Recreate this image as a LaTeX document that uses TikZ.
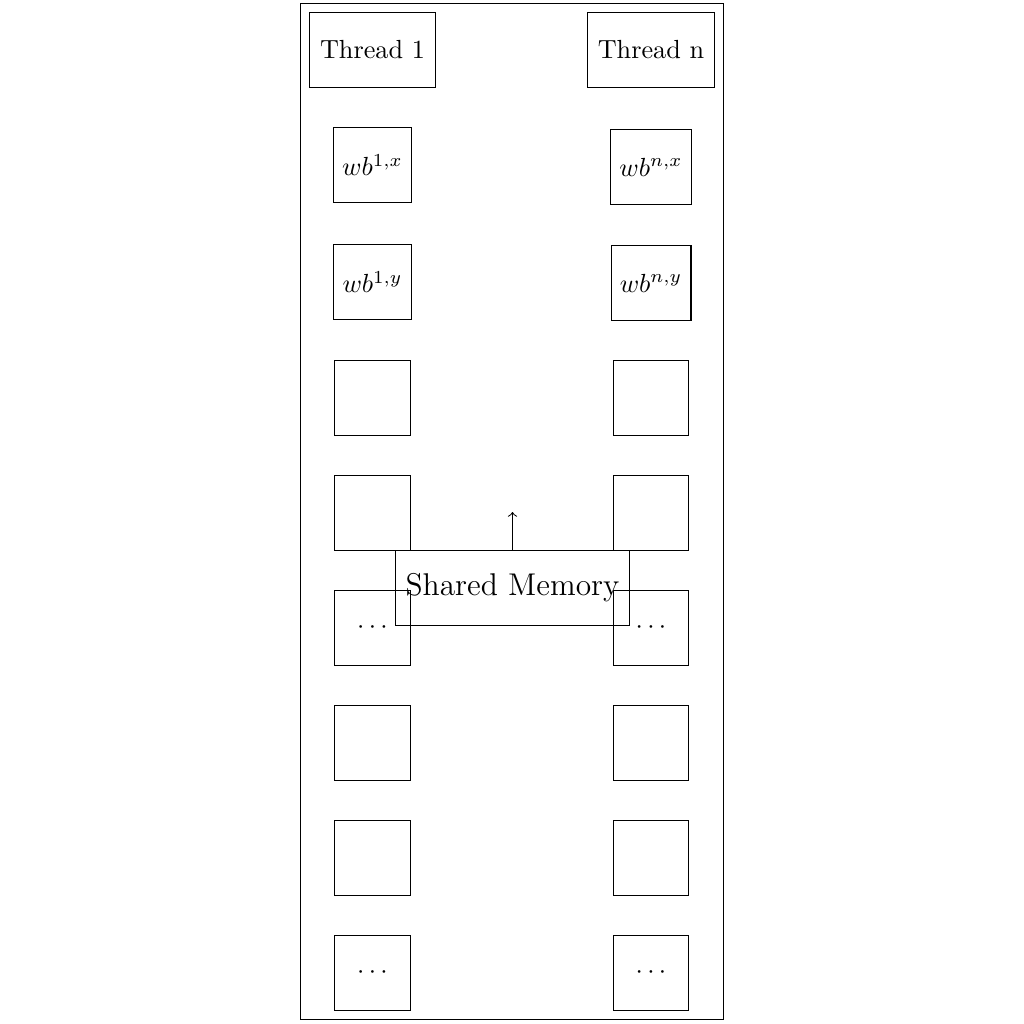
\documentclass[tikz,border=0pt]{standalone}
\usetikzlibrary{fit}
\begin{document}
\begin{tikzpicture}[x=0.013405cm,y=-0.013405cm,
  box/.style={draw,minimum size=1.01cm,inner sep=0.3333em},
  thread/.style={draw,minimum height=1.01cm,inner ysep=0.3333em,inner xsep=0.4em},
  shared/.style={draw,minimum height=1.01cm,inner ysep=0.3333em,inner xsep=0.4em,font=\large}]
\useasboundingbox (0,0) rectangle (1024,1024);
\node[thread] (t1) at (372.5,50) {Thread 1};
\node[thread] (tn) at (651,50) {Thread n};
\node[box] (l1) at (372.5,165) {$wb^{1,x}$};
\node[box] (r1) at (651,167) {$wb^{n,x}$};
\node[box] (l2) at (372.5,282) {$wb^{1,y}$};
\node[box] (r2) at (651,283) {$wb^{n,y}$};
\node[box] (l3) at (372.5,398) {};
\node[box] (r3) at (651,398) {};
\node[box] (l4) at (372.5,513) {};
\node[box] (r4) at (651,513) {};
\node[box] (l5) at (372.5,628) {$\cdots$};
\node[box] (r5) at (651,628) {$\cdots$};
\node[box] (l6) at (372.5,743) {};
\node[box] (r6) at (651,743) {};
\node[box] (l7) at (372.5,858) {};
\node[box] (r7) at (651,858) {};
\node[box] (l8) at (372.5,973) {$\cdots$};
\node[box] (r8) at (651,973) {$\cdots$};
\node[shared] (sm) at (512.5,588) {Shared Memory};
\coordinate (smtip) at (512.5,512);
\draw[->] (sm.north) -- (smtip);
\node[draw,inner sep=0.3333em,fit=(t1)(tn)(l8)(r8)] (frame) {};
\end{tikzpicture}
\end{document}
